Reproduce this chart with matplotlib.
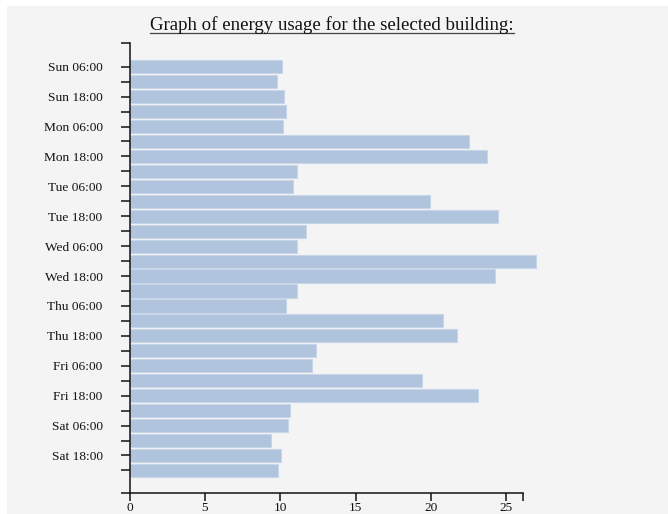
import matplotlib
matplotlib.use("Agg")
import matplotlib.pyplot as plt
from matplotlib.patches import Rectangle
from matplotlib.lines import Line2D

# ---- data ----
time_labels = ["Sun 06:00", "", "Sun 18:00", "", "Mon 06:00", "", "Mon 18:00", "",
               "Tue 06:00", "", "Tue 18:00", "", "Wed 06:00", "", "Wed 18:00", "",
               "Thu 06:00", "", "Thu 18:00", "", "Fri 06:00", "", "Fri 18:00", "",
               "Sat 06:00", "", "Sat 18:00", ""]
usage = [10.1, 9.75, 10.25, 10.35, 10.2, 22.5, 23.7, 11.1, 10.85, 19.95,
         24.45, 11.7, 11.1, 26.95, 24.25, 11.1, 10.4, 20.8, 21.75, 12.35,
         12.1, 19.4, 23.1, 10.65, 10.5, 9.4, 10.05, 9.85]
x_ticks = [0, 5, 10, 15, 20, 25]
x_max = 26.08
title = "Graph of energy usage for the selected building:"

W, H = 668, 514
fig = plt.figure(figsize=(W / 100, H / 100), dpi=100, facecolor="white")
fig.patches.append(Rectangle((7 / W, 0), 1 - 7 / W, (H - 6) / H,
                             transform=fig.transFigure, facecolor="#f4f4f4",
                             edgecolor="none", zorder=-10))

left, right, top, bottom = 129.6, 522.7, 43.0, 492.7
ax = fig.add_axes([left / W, (H - bottom) / H, (right - left) / W, (bottom - top) / H])
ax.set_facecolor("none")

pos = list(range(len(usage)))
ax.barh(pos, usage, height=0.88, color="#b0c4de", edgecolor="#c9d6e8",
        linewidth=0.8, clip_on=False, zorder=2)

y_lo, y_hi = -1.585, 28.49
ax.set_ylim(y_hi, y_lo)
ax.set_xlim(0, x_max)

serif = ["Liberation Serif", "DejaVu Serif"]
ax.set_yticks([y_lo] + pos + [y_hi])
ax.set_yticklabels([""] + time_labels + [""], fontfamily=serif, fontsize=9.6, color="#111")
ax.set_xticks(x_ticks + [x_max])
ax.set_xticklabels([str(t) for t in x_ticks] + [""], fontfamily=serif, fontsize=9.6, color="#111")

ax.tick_params(axis="y", direction="out", length=6.2, width=1.1, pad=13.3, color="#111")
ax.tick_params(axis="x", direction="out", length=5.5, width=1.1, pad=1.5, color="#111")
for s in ["top", "right"]:
    ax.spines[s].set_visible(False)
for s in ["left", "bottom"]:
    ax.spines[s].set_linewidth(1.1)
    ax.spines[s].set_color("#111")

# title with underline
t = fig.text(332 / W, 1 - 30.5 / H, title, ha="center", va="baseline",
             fontfamily=serif, fontsize=13.6, color="#111")
fig.canvas.draw()
bb = t.get_window_extent()
uy = H - 33.2
fig.lines.append(Line2D([bb.x0, bb.x1], [uy, uy], transform=None,
                        color="#444", linewidth=0.9))

fig.savefig("out.png", dpi=100, facecolor="white")
